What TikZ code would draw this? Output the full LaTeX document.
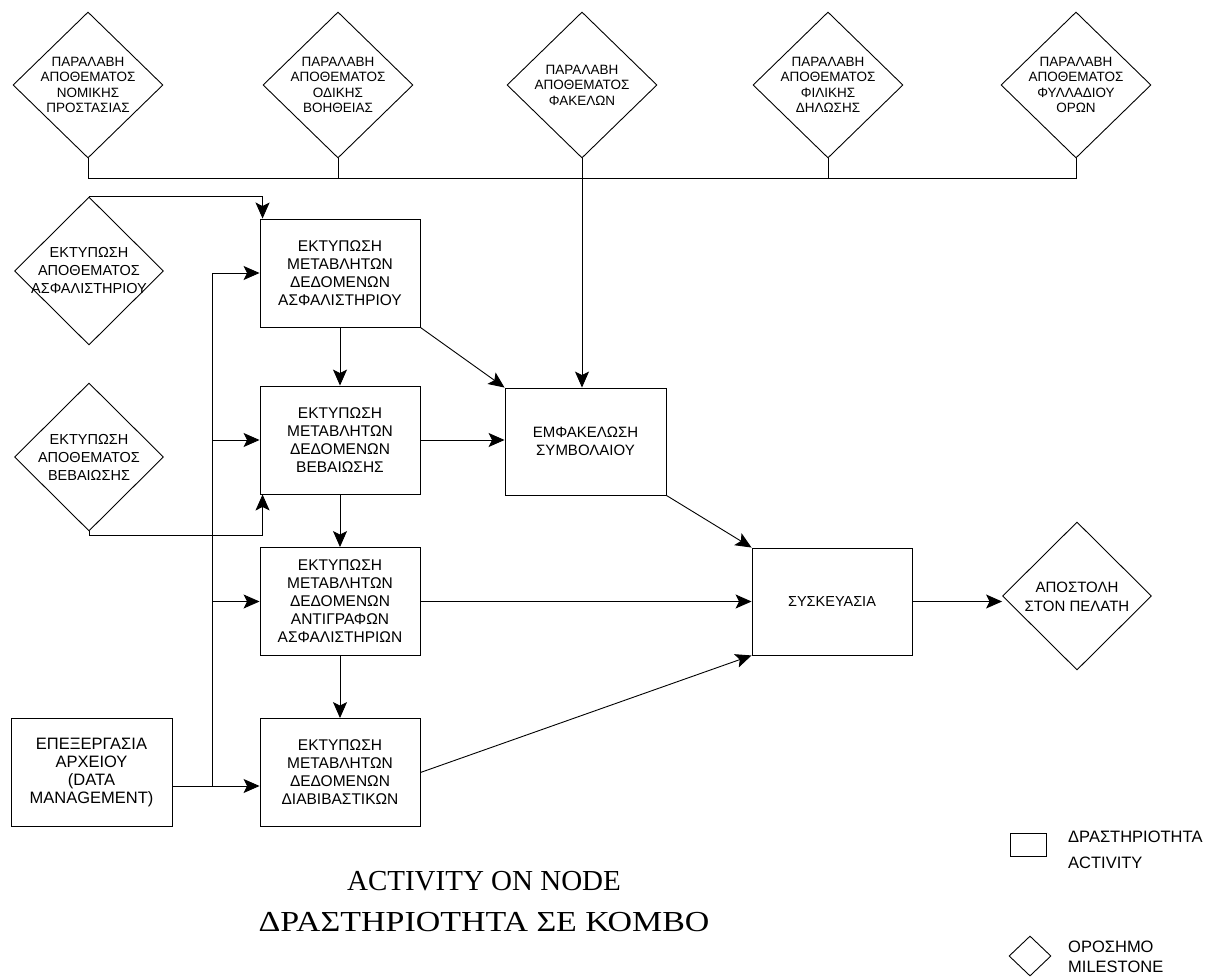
\documentclass[tikz,border=0pt]{standalone}
\usepackage{fontspec}
\setmainfont{Liberation Sans}
\newfontfamily\titlefont{Liberation Serif}
\usetikzlibrary{shapes.geometric,arrows.meta,calc}
\begin{document}
\begin{tikzpicture}[x=1pt,y=-1pt,
  lw/.style={line width=0.9pt},
  ms/.style={draw,lw,diamond,minimum width=150pt,minimum height=146pt,inner sep=0pt},
  msl/.style={draw,lw,diamond,minimum width=149pt,minimum height=148pt,inner sep=0pt},
  mtop/.style={align=center,inner sep=0pt,font=\fontsize{13.5}{15.5}\selectfont},
  mleft/.style={align=center,inner sep=0pt,font=\fontsize{14.5}{18}\selectfont},
  act/.style={draw,lw,rectangle,minimum width=160pt,minimum height=108pt,inner sep=0pt,align=center,font=\fontsize{15.5}{18}\selectfont},
  arr/.style={lw,-{Stealth[length=16pt,width=14pt,inset=3.5pt]}},
  legtext/.style={anchor=west,inner sep=0pt,font=\fontsize{16.5}{18}\selectfont},
]
\useasboundingbox (0,0) rectangle (1226,979);

% top milestones
\node[ms] (d1) at (88,85) {};
\node[mtop] at (d1) {ΠΑΡΑΛΑΒΗ\\ΑΠΟΘΕΜΑΤΟΣ\\ΝΟΜΙΚΗΣ\\ΠΡΟΣΤΑΣΙΑΣ};
\node[ms] (d2) at (338,85) {};
\node[mtop] at (d2) {ΠΑΡΑΛΑΒΗ\\ΑΠΟΘΕΜΑΤΟΣ\\ΟΔΙΚΗΣ\\ΒΟΗΘΕΙΑΣ};
\node[ms] (d3) at (582,85) {};
\node[mtop] at (d3) {ΠΑΡΑΛΑΒΗ\\ΑΠΟΘΕΜΑΤΟΣ\\ΦΑΚΕΛΩΝ};
\node[ms] (d4) at (828,85) {};
\node[mtop] at (d4) {ΠΑΡΑΛΑΒΗ\\ΑΠΟΘΕΜΑΤΟΣ\\ΦΙΛΙΚΗΣ\\ΔΗΛΩΣΗΣ};
\node[ms] (d5) at (1076,85) {};
\node[mtop] at (d5) {ΠΑΡΑΛΑΒΗ\\ΑΠΟΘΕΜΑΤΟΣ\\ΦΥΛΛΑΔΙΟΥ\\ΟΡΩΝ};

% left milestones
\node[msl] (d6) at (89,271) {};
\node[mleft] at (d6) {ΕΚΤΥΠΩΣΗ\\ΑΠΟΘΕΜΑΤΟΣ\\ΑΣΦΑΛΙΣΤΗΡΙΟΥ};
\node[msl] (d7) at (89,457) {};
\node[mleft] at (d7) {ΕΚΤΥΠΩΣΗ\\ΑΠΟΘΕΜΑΤΟΣ\\ΒΕΒΑΙΩΣΗΣ};

% activities
\node[act] (b1) at (340,273) {ΕΚΤΥΠΩΣΗ\\ΜΕΤΑΒΛΗΤΩΝ\\ΔΕΔΟΜΕΝΩΝ\\ΑΣΦΑΛΙΣΤΗΡΙΟΥ};
\node[act] (b2) at (340,440) {ΕΚΤΥΠΩΣΗ\\ΜΕΤΑΒΛΗΤΩΝ\\ΔΕΔΟΜΕΝΩΝ\\ΒΕΒΑΙΩΣΗΣ};
\node[act] (b3) at (340,601.5) {ΕΚΤΥΠΩΣΗ\\ΜΕΤΑΒΛΗΤΩΝ\\ΔΕΔΟΜΕΝΩΝ\\ΑΝΤΙΓΡΑΦΩΝ\\ΑΣΦΑΛΙΣΤΗΡΙΩΝ};
\node[act] (b4) at (340,772.5) {ΕΚΤΥΠΩΣΗ\\ΜΕΤΑΒΛΗΤΩΝ\\ΔΕΔΟΜΕΝΩΝ\\ΔΙΑΒΙΒΑΣΤΙΚΩΝ};
\node[act,minimum width=161pt,font=\fontsize{16.5}{18}\selectfont] (dm) at (91.5,772.5) {ΕΠΕΞΕΡΓΑΣΙΑ\\ΑΡΧΕΙΟΥ\\(DATA\\MANAGEMENT)};
\node[act,minimum width=161pt,minimum height=107pt,font=\fontsize{15}{18}\selectfont] (em) at (585.5,441.5) {ΕΜΦΑΚΕΛΩΣΗ\\ΣΥΜΒΟΛΑΙΟΥ};
\node[act,minimum height=107pt,font=\fontsize{14.5}{18}\selectfont] (sk) at (832,601.5) {ΣΥΣΚΕΥΑΣΙΑ};
\node[msl] (ap) at (1077,596) {};
\node[mleft,font=\fontsize{15}{19}\selectfont] at ($(ap)+(0,1)$) {ΑΠΟΣΤΟΛΗ\\ΣΤΟΝ ΠΕΛΑΤΗ};

% bus from top milestones
\draw[lw] (d1.south) -- ++(0,20) -| (d5.south);
\draw[lw] (d2.south) -- ++(0,20);
\draw[lw] (d4.south) -- ++(0,20);
\draw[arr] (d3.south) -- (d3.south |- em.north);

% left milestones to first two activities
\draw[arr] (d6.north) -| ([xshift=3pt]b1.north west);
\draw[arr] (d7.south) -- ++(0,4) -| ([xshift=3pt]b2.south west);

% data management distribution
\coordinate (v) at (212,786);
\draw[lw] (v) -- (v |- b1.west);
\draw[arr] (dm.east |- v) -- (b4.west |- v);
\draw[arr] (v |- b1.west) -- (b1.west);
\draw[arr] (v |- b2.west) -- (b2.west);
\draw[arr] (v |- b3.west) -- (b3.west);

% chain of activities
\draw[arr] (b1.south) -- (b2.north);
\draw[arr] (b2.south) -- (b3.north);
\draw[arr] (b3.south) -- (b4.north);
\draw[arr] (b1.south east) -- (em.north west);
\draw[arr] (b2.east) -- (em.west |- b2.east);
\draw[arr] (em.south east) -- (sk.north west);
\draw[arr] (b3.east) -- (sk.west |- b3.east);
\draw[arr] (b4.east) -- (sk.south west);
\draw[arr] (sk.east) -- (ap.west |- sk.east);

% title
\node[align=center,inner sep=0pt,font=\titlefont\fontsize{29}{41}\selectfont] (title) at (484,902)
  {ACTIVITY ON NODE\\\scalebox{1.17}[1]{ΔΡΑΣΤΗΡΙΟΤΗΤΑ ΣΕ ΚΟΜΒΟ}};

% legend
\node[draw,lw,rectangle,minimum width=36pt,minimum height=23pt,inner sep=0pt] (la) at (1028,844.5) {};
\node[legtext] (lat1) at (1068,837) {ΔΡΑΣΤΗΡΙΟΤΗΤΑ};
\node[legtext] (lat2) at (1068,863) {ACTIVITY};
\node[draw,lw,diamond,minimum width=42pt,minimum height=40pt,inner sep=0pt] (lm) at (1030,956) {};
\node[legtext] (lmt1) at (1068,947) {ΟΡΟΣΗΜΟ};
\node[legtext] (lmt2) at (1068,967) {MILESTONE};
\end{tikzpicture}
\end{document}
